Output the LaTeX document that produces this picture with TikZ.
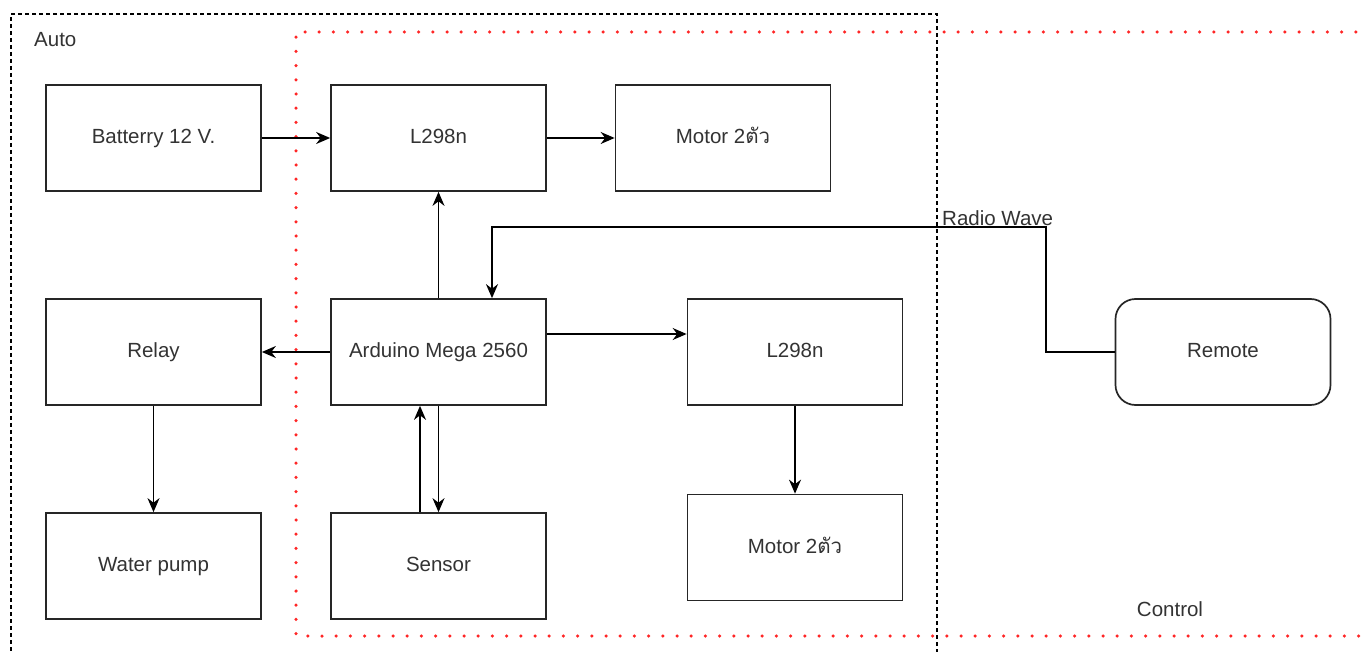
\documentclass[tikz,border=0pt]{standalone}
\usepackage{fontspec}
\setmainfont{Liberation Sans}
\newfontfamily\thaifont[Script=Thai]{Loma}
\usetikzlibrary{arrows.meta}
\begin{document}
\begin{tikzpicture}[x=1pt,y=-1pt,
  box/.style={draw=black!85,line width=1.7pt,minimum width=215pt,minimum height=106pt,inner sep=0pt,font=\fontsize{20.5}{24}\selectfont,text=black!80,fill=white,text height=15pt,text depth=4pt},
  rbox/.style={box,rounded corners=20pt},
  conn/.style={line width=1.7pt,draw=black,-{Stealth[length=14pt,width=12pt]}},
  lbl/.style={font=\fontsize{20.5}{24}\selectfont,text=black!80,inner sep=0pt}]
\useasboundingbox (0,0) rectangle (1362,652);
\fill[white] (0,0) rectangle (1362,652);
% containers
\draw[black,line width=1.3pt,dash pattern=on 4pt off 3pt] (937,660) -- (937,14) -- (11,14) -- (11,660);
\draw[red!85,line width=3.5pt,line cap=round,dash pattern=on 0pt off 14.2pt] (1370,32) -- (296,32) -- (296,636) -- (1370,636);
\node[lbl,anchor=west] (auto) at (34,40) {Auto};
\node[lbl] (control) at (1170,609) {Control};
% nodes
\node[box] (bat) at (153.5,138) {Batterry 12 V.};
\node[box] (l1) at (438.5,138) {L298n};
\node[box] (m1) at (723,138) {Motor 2{\thaifont ตัว}};
\node[box] (relay) at (153.5,352) {Relay};
\node[box] (ard) at (438.5,352) {Arduino Mega 2560};
\node[box] (l2) at (795,352) {L298n};
\node[rbox] (rem) at (1223,352) {Remote};
\node[box] (pump) at (153.5,566) {Water pump};
\node[box] (sens) at (438.5,566) {Sensor};
\node[box] (m2) at (795,547.5) {Motor 2{\thaifont ตัว}};
% connectors
\draw[conn] (bat) -- (l1);
\draw[conn] (l1) -- (m1);
\draw[conn] (ard) -- (l1);
\draw[conn] (ard) -- (relay);
\draw[conn] (ard.east |- 0,334) -- (l2.west |- 0,334);
\draw[conn] (relay) -- (pump);
\draw[conn] (l2) -- (m2);
\draw[conn] (sens.north -| 420,0) -- (ard.south -| 420,0);
\draw[conn] (ard.south) -- (sens.north);
\draw[conn] (rem.west) -- (1046,352) -- (1046,227) -- (492,227) -- (ard.north -| 492,0);
\node[lbl,anchor=south west] (radio) at (942,226) {Radio Wave};
\end{tikzpicture}
\end{document}
